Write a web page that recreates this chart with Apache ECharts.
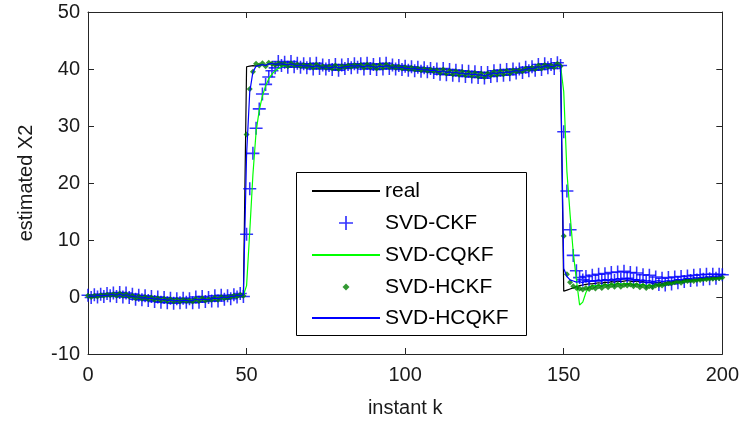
<!DOCTYPE html>
<html>
<head>
<meta charset="utf-8">
<script src="https://cdn.jsdelivr.net/npm/echarts@6/dist/echarts.min.js"></script>
<style>html,body{margin:0;padding:0;background:#fff}#c{width:742px;height:423px}</style>
</head>
<body>
<div id="c"></div>
<script>
// x ticks / y ticks
const xTicks = [0, 50, 100, 150, 200];
const yTicks = [-10, 0, 10, 20, 30, 40, 50];
const seriesNames = ['real', 'SVD-CKF', 'SVD-CQKF', 'SVD-HCKF', 'SVD-HCQKF'];

// values for instants k = 0..200
const real = [
0.1,0.2,0.0,0.3,0.1,0.4,0.2,0.5,0.3,0.4,
0.5,0.3,0.4,0.2,0.1,-0.1,0.0,-0.2,-0.1,-0.3,
-0.2,-0.4,-0.3,-0.5,-0.4,-0.6,-0.5,-0.7,-0.6,-0.7,
-0.6,-0.5,-0.7,-0.6,-0.4,-0.5,-0.3,-0.4,-0.5,-0.3,
-0.2,-0.3,-0.1,0.0,-0.2,0.1,0.0,0.3,0.2,0.4,
40.4,40.5,40.6,40.5,40.7,40.8,40.6,40.9,41.0,40.8,
40.9,41.0,40.8,40.7,40.9,40.8,40.6,40.7,40.5,40.6,
40.5,40.4,40.6,40.5,40.3,40.4,40.2,40.3,40.4,40.2,
40.3,40.5,40.4,40.6,40.5,40.7,40.5,40.4,40.6,40.5,
40.4,40.3,40.5,40.4,40.6,40.5,40.3,40.4,40.2,40.3,
40.1,40.2,40.0,40.1,39.9,40.0,39.8,39.9,39.7,39.8,
39.6,39.5,39.7,39.4,39.5,39.3,39.4,39.2,39.3,39.1,
39.2,39.0,39.1,38.9,39.0,38.8,39.0,39.1,39.3,39.2,
39.4,39.3,39.5,39.4,39.6,39.7,39.6,39.8,39.9,40.1,
40.0,40.2,40.4,40.3,40.5,40.6,40.4,40.5,40.7,40.6,
1.0,1.2,1.4,1.6,1.8,2.0,2.1,2.2,2.3,2.3,
2.4,2.5,2.4,2.6,2.5,2.7,2.6,2.8,2.7,2.8,
2.9,2.8,2.7,2.8,2.6,2.7,2.5,2.6,2.4,2.5,
2.6,2.4,2.5,2.7,2.6,2.8,2.9,2.8,3.0,3.1,
3.0,3.2,3.1,3.3,3.2,3.4,3.3,3.5,3.4,3.5,
3.6];

const svdCKF = [
0.3,-0.1,0.4,0.0,0.5,0.1,0.6,0.2,0.7,0.1,
0.8,0.0,0.7,-0.1,0.5,-0.4,0.3,-0.5,0.2,-0.6,
0.1,-0.8,0.0,-0.9,-0.1,-1.0,-0.2,-1.1,-0.3,-1.0,
-0.2,-0.9,-0.3,-1.0,0.0,-0.9,0.1,-0.8,-0.1,-0.7,
0.2,-0.7,0.3,-0.4,0.2,-0.3,0.4,0.0,0.6,0.1,
11.0,19.0,25.2,29.6,33.0,35.6,37.3,38.6,39.7,40.2,
41.3,40.6,41.2,40.3,41.3,40.4,41.0,40.3,40.9,40.2,
40.9,40.0,41.0,40.1,40.7,40.0,40.6,39.9,40.8,39.8,
40.7,40.1,40.8,40.2,40.9,40.3,40.9,40.0,41.0,40.1,
40.8,39.9,40.9,40.0,41.0,40.1,40.7,40.0,40.6,39.9,
40.5,39.8,40.4,39.7,40.3,39.6,40.2,39.5,40.1,39.4,
40.0,39.1,40.1,39.0,39.9,38.9,39.8,38.8,39.7,38.7,
39.6,38.6,39.5,38.5,39.4,38.4,39.4,38.7,39.7,38.8,
39.8,38.9,39.9,39.0,40.0,39.3,40.0,39.4,40.3,39.7,
40.4,39.8,40.8,39.9,40.9,40.2,40.8,40.1,41.1,40.6,
29.0,18.6,11.8,7.3,4.6,3.4,3.0,3.6,2.8,3.8,
2.8,4.0,2.9,4.1,3.0,4.3,2.9,4.4,3.1,4.5,
3.3,4.3,3.0,4.2,2.9,3.9,2.6,3.8,2.5,3.5,
2.2,3.3,2.1,3.4,2.3,3.5,2.5,3.6,2.7,3.7,
2.9,3.8,3.0,3.9,3.1,4.0,3.2,4.0,3.3,4.0,
3.9];

const svdCQKF = [
0.0,0.3,0.1,0.2,0.2,0.3,0.3,0.4,0.4,0.3,
0.4,0.4,0.3,0.3,0.0,0.0,-0.1,-0.1,-0.2,-0.2,
-0.3,-0.3,-0.4,-0.4,-0.5,-0.5,-0.6,-0.6,-0.7,-0.6,
-0.6,-0.6,-0.6,-0.5,-0.5,-0.4,-0.4,-0.4,-0.4,-0.3,
-0.3,-0.2,-0.2,-0.1,-0.1,0.0,0.1,0.2,0.2,0.3,
2.0,11.5,21.5,29.0,32.8,35.3,37.0,38.3,39.1,39.7,
40.1,40.4,40.6,40.7,40.8,40.7,40.6,40.6,40.5,40.5,
40.5,40.4,40.5,40.4,40.3,40.3,40.3,40.3,40.3,40.3,
40.3,40.4,40.4,40.5,40.5,40.6,40.5,40.5,40.5,40.5,
40.4,40.4,40.4,40.4,40.5,40.4,40.3,40.3,40.2,40.2,
40.1,40.1,40.0,40.0,39.9,39.9,39.8,39.8,39.7,39.7,
39.6,39.5,39.6,39.4,39.4,39.3,39.3,39.2,39.2,39.1,
39.1,39.0,39.0,38.9,38.9,38.9,39.0,39.1,39.2,39.2,
39.3,39.3,39.4,39.4,39.5,39.6,39.6,39.7,39.8,40.0,
40.0,40.1,40.3,40.3,40.4,40.5,40.4,40.5,40.6,40.6,
36.0,22.0,14.5,7.8,3.0,-1.4,-0.9,0.8,1.8,2.0,
2.0,2.1,2.0,2.2,2.1,2.3,2.2,2.4,2.3,2.3,
2.4,2.3,2.2,2.3,2.1,2.2,2.0,2.1,2.0,2.1,
2.2,2.1,2.2,2.4,2.3,2.5,2.6,2.6,2.7,2.8,
2.8,2.9,2.9,3.0,3.0,3.1,3.1,3.2,3.2,3.3,
3.3];

const svdHCKF = [
0.2,0.0,0.2,0.1,0.3,0.2,0.4,0.3,0.5,0.2,
0.6,0.2,0.5,0.1,0.2,-0.2,0.1,-0.3,0.0,-0.4,
-0.1,-0.5,-0.2,-0.6,-0.3,-0.7,-0.4,-0.8,-0.5,-0.8,
-0.5,-0.7,-0.6,-0.8,-0.3,-0.7,-0.2,-0.6,-0.4,-0.5,
-0.1,-0.5,0.0,-0.2,-0.1,0.0,0.2,0.1,0.4,0.2,
28.5,36.5,39.5,40.9,40.6,41.0,40.5,41.1,40.9,40.7,
41.0,40.8,40.9,40.5,41.0,40.6,40.8,40.5,40.7,40.4,
40.7,40.2,40.8,40.3,40.5,40.2,40.4,40.1,40.6,40.0,
40.5,40.3,40.6,40.4,40.7,40.5,40.7,40.2,40.8,40.3,
40.6,40.1,40.7,40.2,40.8,40.3,40.5,40.2,40.4,40.1,
40.3,40.0,40.2,39.9,40.1,39.8,40.0,39.7,39.9,39.6,
39.8,39.3,39.9,39.2,39.7,39.1,39.6,39.0,39.5,38.9,
39.4,38.8,39.3,38.7,39.2,38.6,39.2,38.9,39.5,39.0,
39.6,39.1,39.7,39.2,39.8,39.5,39.8,39.6,40.1,39.9,
40.2,40.0,40.6,40.1,40.7,40.4,40.6,40.3,40.9,40.5,
10.7,4.0,2.6,1.9,1.6,1.5,1.3,1.6,1.4,1.7,
1.5,1.9,1.6,2.0,1.7,2.1,1.8,2.2,1.8,2.1,
2.0,2.2,1.9,2.1,1.7,2.0,1.6,1.9,1.7,2.0,
2.1,2.0,2.3,2.4,2.4,2.6,2.7,2.5,2.8,2.8,
2.9,2.8,3.0,3.0,3.1,3.1,3.2,3.2,3.3,3.3,
3.4];

const svdHCQKF = [
0.1,0.2,0.1,0.3,0.2,0.3,0.3,0.4,0.4,0.3,
0.5,0.3,0.4,0.2,0.1,0.0,0.0,-0.2,-0.1,-0.3,
-0.2,-0.4,-0.3,-0.5,-0.4,-0.6,-0.5,-0.7,-0.6,-0.7,
-0.6,-0.6,-0.7,-0.6,-0.4,-0.5,-0.4,-0.4,-0.5,-0.3,
-0.2,-0.3,-0.1,0.0,-0.1,0.1,0.1,0.3,0.2,0.4,
25.0,36.0,39.5,40.5,40.6,40.8,40.6,40.9,41.0,40.8,
40.9,40.9,40.8,40.7,40.9,40.7,40.6,40.7,40.5,40.6,
40.5,40.4,40.6,40.4,40.3,40.4,40.2,40.3,40.4,40.2,
40.3,40.4,40.4,40.6,40.5,40.6,40.5,40.4,40.6,40.5,
40.4,40.3,40.5,40.4,40.6,40.4,40.3,40.4,40.2,40.3,
40.1,40.1,40.0,40.1,39.9,40.0,39.8,39.9,39.7,39.8,
39.6,39.5,39.7,39.4,39.5,39.3,39.4,39.2,39.3,39.1,
39.2,39.0,39.1,38.9,39.0,38.8,39.0,39.1,39.3,39.2,
39.4,39.3,39.5,39.4,39.6,39.7,39.6,39.8,39.9,40.1,
40.0,40.2,40.4,40.3,40.5,40.6,40.4,40.5,40.7,40.6,
5.0,3.6,3.0,2.8,2.6,2.7,2.5,2.8,2.6,2.9,
2.8,3.0,2.8,3.1,2.9,3.2,3.0,3.3,3.1,3.2,
3.3,3.2,3.0,3.1,2.9,3.0,2.8,2.9,2.7,2.8,
2.9,2.7,2.8,2.9,2.8,3.0,3.1,3.0,3.2,3.3,
3.2,3.4,3.3,3.5,3.4,3.6,3.5,3.7,3.6,3.7,
3.7];

const pts = arr => arr.map((v, i) => [i, v]);
const FONT = 'Liberation Sans, Arial, sans-serif';
const AX = '#262626';
const PLUS = 'path://M0,4.4H10V5.6H0Z M4.4,0H5.6V10H4.4Z';
const DIAMOND = 'path://M5,0L10,5L5,10L0,5Z';

const chart = echarts.init(document.getElementById('c'), null, {renderer: 'canvas'});

const axisCommon = {
  axisLine: {show: true, onZero: false, lineStyle: {color: AX, width: 1}},
  axisTick: {show: true, inside: true, length: 6, lineStyle: {color: AX}},
  splitLine: {show: false}
};

// legend layout (style only)
const legendRows = [191, 223, 255, 287, 318];
const legendIcon = ['rect', PLUS, 'rect', DIAMOND, 'rect'];
const legendIconH = [2, 14, 2, 7, 2];
const legendLeft = [312, 339, 312, 342.5, 312];

const option = {
  animation: false,
  backgroundColor: '#fff',
  textStyle: {fontFamily: FONT},
  grid: {left: 88, right: 19, top: 12, bottom: 69, containLabel: false},
  xAxis: [
    Object.assign({}, axisCommon, {
      type: 'value', position: 'bottom', min: xTicks[0], max: xTicks[xTicks.length - 1], interval: 50,
      axisLabel: {show: true, margin: 11, fontSize: 20, color: '#1a1a1a', fontFamily: FONT},
      name: 'instant k', nameLocation: 'middle', nameGap: 44,
      nameTextStyle: {fontSize: 20, color: '#1a1a1a', fontFamily: FONT}
    }),
    Object.assign({}, axisCommon, {
      type: 'value', position: 'top', min: xTicks[0], max: xTicks[xTicks.length - 1], interval: 50,
      axisLabel: {show: false}
    })
  ],
  yAxis: [
    Object.assign({}, axisCommon, {
      type: 'value', position: 'left', min: yTicks[0], max: yTicks[yTicks.length - 1], interval: 10,
      axisLabel: {show: true, margin: 8, fontSize: 20, color: '#1a1a1a', fontFamily: FONT},
      name: 'estimated X2', nameLocation: 'middle', nameGap: 52, nameRotate: 90,
      nameTextStyle: {fontSize: 20, color: '#1a1a1a', fontFamily: FONT}
    }),
    Object.assign({}, axisCommon, {
      type: 'value', position: 'right', min: yTicks[0], max: yTicks[yTicks.length - 1], interval: 10,
      axisLabel: {show: false}
    })
  ],
  graphic: [{
    type: 'rect', z: 50, silent: true,
    shape: {x: 296.5, y: 172.5, width: 230, height: 163},
    style: {fill: '#fff', stroke: '#000', lineWidth: 1}
  }],
  legend: seriesNames.map((n, i) => ({
    data: [{name: n, icon: legendIcon[i]}], orient: 'vertical', left: legendLeft[i],
    top: legendRows[i] - 12,
    padding: 0, z: 60,
    itemWidth: 68, itemHeight: legendIconH[i], itemGap: 0, selectedMode: false,
    textStyle: {fontSize: 21, lineHeight: 24, color: '#000', fontFamily: FONT}
  })),
  series: [
    {name: seriesNames[0], type: 'line', data: pts(real), symbol: 'none', showSymbol: false,
     lineStyle: {color: '#000', width: 1.2}, itemStyle: {color: '#000'}, silent: true, z: 2},
    {name: seriesNames[1], type: 'scatter', data: pts(svdCKF), symbol: PLUS, symbolSize: 13,
     itemStyle: {color: '#0000ff'}, silent: true, z: 3},
    {name: seriesNames[2], type: 'line', data: pts(svdCQKF), symbol: 'none', showSymbol: false,
     lineStyle: {color: '#00ff00', width: 1.2}, itemStyle: {color: '#00ff00'}, silent: true, z: 4},
    {name: seriesNames[3], type: 'scatter', data: pts(svdHCKF), symbol: DIAMOND, symbolSize: 6,
     itemStyle: {color: '#008000'}, silent: true, z: 5},
    {name: seriesNames[4], type: 'line', data: pts(svdHCQKF), symbol: 'none', showSymbol: false,
     lineStyle: {color: '#0000ff', width: 1.2}, itemStyle: {color: '#0000ff'}, silent: true, z: 6}
  ]
};
chart.setOption(option);
</script>
</body>
</html>
